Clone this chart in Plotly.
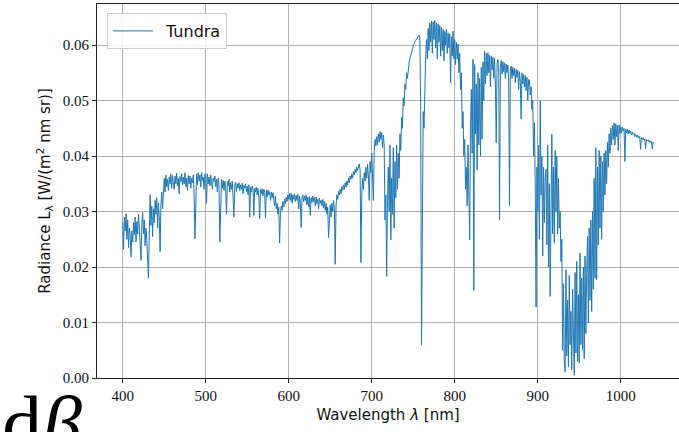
import plotly.graph_objects as go

# ---- data ----
series_name = "Tundra"
wavelength_nm = list(range(400, 1041))  # 1 nm sampling grid

# radiance in units of 1e-3 W / (m^2 nm sr), one row per 10 nm
radiance_milli = [
    28.0, 23.2, 29.0, 26.5, 29.6, 25.0, 28.5, 23.5, 27.0, 25.5,   # 400
    21.8, 26.5, 24.5, 28.0, 25.8, 29.0, 24.5, 28.2, 26.0, 29.5,   # 410
    27.0, 24.0, 21.2, 27.5, 29.8, 26.0, 28.5, 23.8, 27.0, 25.0,   # 420
    22.5, 18.0, 26.0, 33.0, 27.5, 31.0, 25.5, 30.5, 28.0, 32.0,   # 430
    29.5, 32.5, 27.0, 31.5, 29.0, 22.8, 31.0, 33.5, 30.5, 34.0,   # 440
    36.0, 33.5, 36.6, 34.5, 35.8, 33.8, 36.2, 35.0, 36.8, 34.2,   # 450
    36.5, 35.2, 34.0, 36.4, 35.0, 36.9, 34.6, 36.0, 33.2, 36.3,   # 460
    35.4, 36.8, 34.8, 36.2, 35.0, 37.0, 34.5, 36.0, 33.8, 36.5,   # 470
    35.0, 36.4, 34.2, 36.0, 35.2, 36.6, 33.0, 25.1, 35.5, 36.8,   # 480
    34.8, 37.0, 35.5, 36.6, 34.4, 37.0, 35.6, 36.2, 34.0, 36.8,   # 490
    36.5, 31.5, 36.8, 35.0, 36.2, 34.6, 36.6, 35.2, 34.0, 36.0,   # 500
    35.4, 36.4, 34.5, 35.8, 33.5, 36.0, 34.8, 24.5, 34.5, 35.8,   # 510
    34.2, 35.6, 33.8, 35.5, 34.0, 29.5, 35.4, 34.6, 35.8, 33.5,   # 520
    35.2, 34.0, 35.5, 33.0, 29.0, 34.8, 35.3, 33.6, 35.0, 34.2,   # 530
    35.2, 33.8, 34.8, 34.0, 35.1, 33.2, 34.7, 34.2, 35.0, 33.6,   # 540
    34.6, 33.0, 34.8, 29.0, 34.4, 33.5, 34.6, 33.8, 29.3, 34.2,   # 550
    33.5, 34.4, 33.0, 34.2, 32.5, 28.7, 34.0, 33.2, 34.1, 32.8,   # 560
    34.0, 33.4, 28.8, 33.8, 32.6, 33.9, 33.0, 33.6, 32.0, 33.5,   # 570
    32.5, 33.4, 32.0, 31.0, 32.8, 30.5, 31.5, 29.5, 30.8, 24.3,   # 580
    29.5, 31.0, 30.2, 31.8, 30.8, 32.2, 31.4, 32.6, 31.8, 33.0,   # 590
    32.2, 33.2, 32.0, 33.3, 31.5, 33.0, 32.2, 33.2, 31.8, 32.9,   # 600
    32.0, 33.1, 30.5, 32.8, 31.6, 27.1, 32.5, 33.0, 31.8, 32.8,   # 610
    32.0, 33.0, 31.2, 32.6, 30.8, 32.7, 29.3, 32.5, 31.6, 32.8,   # 620
    31.8, 32.5, 31.0, 32.6, 31.4, 32.2, 30.5, 32.4, 31.5, 32.0,   # 630
    31.0, 32.2, 30.6, 31.8, 30.2, 31.5, 29.5, 30.8, 25.3, 30.5,   # 640
    31.2, 29.0, 31.5, 30.0, 32.0, 30.5, 20.5, 31.0, 33.0, 32.2,   # 650
    33.6, 33.0, 34.0, 33.2, 34.5, 33.8, 34.8, 34.0, 35.2, 34.4,   # 660
    35.5, 34.8, 36.0, 35.2, 36.4, 35.8, 36.8, 36.0, 37.2, 36.6,   # 670
    37.6, 37.0, 38.0, 37.4, 38.4, 38.6, 37.5, 20.8, 33.0, 36.0,   # 680
    34.0, 37.0, 35.5, 38.0, 36.0, 38.5, 36.5, 32.0, 39.0, 37.0,   # 690
    40.5, 35.7, 32.0, 41.0, 43.0, 41.8, 43.5, 42.0, 44.0, 42.5,   # 700
    44.4, 43.0, 44.2, 41.5, 43.8, 42.0, 28.5, 33.0, 18.3, 32.0,   # 710
    38.0, 30.0, 42.0, 24.9, 36.0, 29.5, 41.5, 27.0, 39.0, 32.5,   # 720
    42.0, 34.0, 40.5, 36.0, 44.0, 41.0, 47.0, 45.0, 50.5, 49.0,   # 730
    53.0, 52.0, 55.0, 54.0, 56.0, 56.8, 57.6, 58.2, 58.8, 59.4,   # 740
    60.0, 60.3, 60.6, 60.9, 61.2, 61.4, 61.6, 61.8, 61.5, 48.0,   # 750
    6.0, 30.0, 48.0, 45.0, 55.0, 58.0, 61.0, 57.5, 63.0, 59.0,    # 760
    64.0, 60.5, 64.3, 58.5, 64.2, 61.0, 64.4, 59.5, 64.0, 57.5,   # 770
    63.8, 60.5, 63.5, 58.0, 63.2, 59.0, 62.8, 57.2, 62.5, 60.0,   # 780
    62.8, 58.5, 62.2, 59.5, 62.0, 53.2, 61.5, 58.0, 62.5, 57.5,   # 790
    61.0, 56.5, 60.5, 57.5, 60.2, 55.0, 58.5, 52.0, 55.0, 45.0,   # 800
    48.0, 40.0, 43.0, 34.0, 38.0, 31.0, 42.0, 35.0, 24.9, 45.0,   # 810
    52.0, 40.5, 57.4, 15.8, 56.5, 44.0, 53.0, 37.5, 55.0, 42.0,   # 820
    54.0, 40.0, 56.0, 43.0, 57.0, 50.0, 58.9, 53.0, 58.5, 54.5,   # 830
    58.6, 55.0, 58.2, 52.5, 58.0, 55.5, 57.8, 54.0, 57.6, 53.0,   # 840
    42.4, 56.5, 57.4, 55.0, 28.5, 56.0, 57.2, 54.8, 57.0, 55.2,   # 850
    56.8, 54.0, 56.6, 55.0, 56.4, 53.5, 31.1, 55.5, 56.2, 54.0,   # 860
    56.0, 54.5, 55.8, 53.2, 55.6, 54.2, 55.4, 52.0, 55.2, 53.5,   # 870
    46.7, 55.0, 53.0, 54.7, 52.5, 54.5, 51.8, 54.2, 50.0, 53.8,   # 880
    53.5, 51.0, 52.5, 48.4, 50.0, 40.0, 46.0, 35.0, 12.8, 38.0,   # 890
    30.0, 42.0, 25.0, 50.0, 33.0, 40.0, 22.0, 38.0, 28.0, 36.0,   # 900
    37.6, 24.0, 42.0, 20.0, 35.0, 14.7, 30.0, 43.9, 26.0, 38.0,   # 910
    24.3, 41.0, 30.0, 40.0, 26.0, 36.0, 27.0, 30.0, 21.0, 25.0,   # 920
    5.0, 17.0, 3.0, 1.1, 19.5, 4.0, 14.0, 2.0, 18.5, 6.0,         # 930
    12.0, 1.5, 16.0, 3.5, 0.5, 19.0, 4.5, 21.0, 3.0, 15.0,        # 940
    2.7, 22.5, 6.0, 18.0, 5.0, 20.0, 3.5, 22.0, 8.0, 19.0,        # 950
    25.5, 9.9, 27.0, 14.0, 28.5, 12.0, 30.0, 16.0, 36.0, 18.0,    # 960
    41.5, 17.7, 38.0, 24.0, 41.0, 27.0, 40.0, 25.0, 39.0, 30.0,   # 970
    40.5, 33.0, 41.0, 35.0, 42.5, 38.0, 44.0, 40.5, 45.0, 42.0,   # 980
    45.5, 43.0, 46.0, 42.0, 45.8, 43.5, 45.5, 41.0, 45.6, 44.0,   # 990
    45.3, 44.2, 45.2, 44.5, 45.0, 39.0, 44.8, 44.2, 44.9, 44.0,   # 1000
    44.7, 44.1, 44.5, 43.8, 44.3, 43.9, 44.1, 43.5, 43.9, 43.4,   # 1010
    43.8, 43.3, 43.6, 43.2, 41.2, 43.4, 43.0, 43.3, 42.9, 43.1,   # 1020
    41.3, 43.0, 42.7, 42.9, 42.5, 42.8, 42.4, 42.6, 41.3, 42.5,   # 1030
    42.4,                                                         # 1040
]

x_tick_values = [400, 500, 600, 700, 800, 900, 1000]
y_tick_values = [0.00, 0.01, 0.02, 0.03, 0.04, 0.05, 0.06]
y_tick_labels = ["0.00", "0.01", "0.02", "0.03", "0.04", "0.05", "0.06"]

n = min(len(wavelength_nm), len(radiance_milli))
x_vals = wavelength_nm[:n]
y_vals = [v / 1000.0 for v in radiance_milli[:n]]

# ---- figure ----
fig = go.Figure()
fig.add_trace(go.Scatter(
    x=x_vals, y=y_vals, mode="lines", name="\u2002" + series_name,
    line=dict(color="#1f77b4", width=1.0),
))

serif = "Liberation Serif, DejaVu Serif, serif"
sans = "DejaVu Sans, Liberation Sans, sans-serif"

fig.update_layout(
    width=679, height=432,
    margin=dict(l=97, r=0, t=4, b=54),
    paper_bgcolor="white", plot_bgcolor="white",
    showlegend=True,
    legend=dict(
        x=(107 - 97) / 582, y=1 - (13 - 4) / 374, xanchor="left", yanchor="top",
        bgcolor="rgba(255,255,255,0.85)", bordercolor="#cccccc", borderwidth=1,
        font=dict(family=sans, size=16, color="#111111"),
        itemwidth=40,
    ),
    xaxis=dict(
        range=[369.0, 1070.2], tickvals=x_tick_values,
        showgrid=True, gridcolor="#b0b0b0", gridwidth=1,
        showline=True, mirror=True, linecolor="#222222", linewidth=1,
        ticks="outside", ticklen=4, tickcolor="#222222",
        tickfont=dict(family=serif, size=15, color="#111111"),
        title=dict(text="Wavelength <i>λ</i> [nm]", font=dict(family=sans, size=15, color="#111111"), standoff=6),
        zeroline=False,
    ),
    yaxis=dict(
        range=[0.0, 0.0674], tickvals=y_tick_values, ticktext=y_tick_labels,
        showgrid=True, gridcolor="#b0b0b0", gridwidth=1,
        showline=True, mirror=False, linecolor="#222222", linewidth=1,
        ticks="outside", ticklen=4, tickcolor="#222222",
        tickfont=dict(family=serif, size=15, color="#111111"),
        title=dict(text="Radiance L<sub>λ</sub> [W/(m<sup>2</sup> nm sr)]",
                   font=dict(family=sans, size=15, color="#111111"), standoff=8),
        zeroline=False,
    ),
)

# fragment of surrounding page text visible at the lower-left of the crop
fig.add_annotation(
    text="d<i>β</i>", xref="paper", yref="paper",
    x=-97 / 582, y=(378 - 378) / 374, xanchor="left", yanchor="top",
    showarrow=False, font=dict(family=serif, size=80, color="#000000"),
)

fig.write_html("out.html")
